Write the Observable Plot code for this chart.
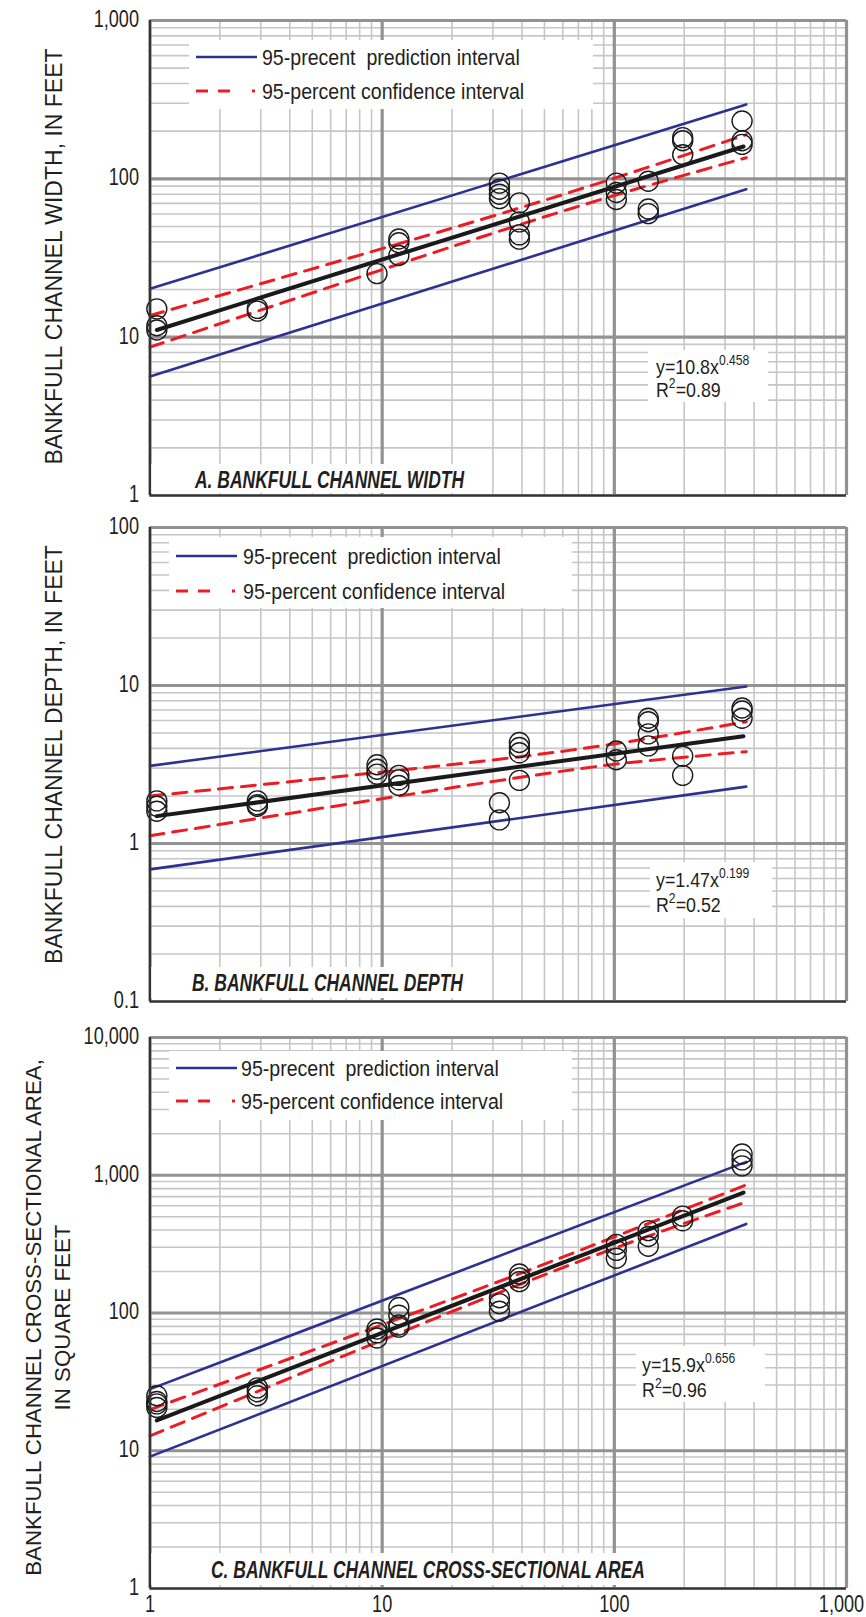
<!DOCTYPE html>
<html><head><meta charset="utf-8">
<script src="https://cdn.jsdelivr.net/npm/d3@7"></script>
<script src="https://cdn.jsdelivr.net/npm/@observablehq/plot@0.6"></script>
<style>
body{margin:0;background:#fff;}
#chart svg{display:block;overflow:visible;background:transparent;}
</style></head><body><div id="chart"></div>
<script>
// "condNN" in a font stack is a marker only: such texts are condensed to NN % width after rendering
const COND = k => `'Liberation Sans',Arial,Helvetica,sans-serif,cond${k}`;
const F_TICK = COND(74), F_LEG = COND(87), F_LAB = COND(76);
const SANS = "'Liberation Sans',Arial,Helvetica,sans-serif";
const INK = "#231f20", BLUE = "#2e3192", RED = "#ed1c24", DOT = "#1a1a1a";
const MINOR = "#c6c6c6", MAJOR = "#929292", AXIS = "#333333";

// ---------- data (drainage area, square miles) ----------
const areaA = [1.07,1.07,1.07, 2.9,2.9, 9.5, 11.8,11.8,11.8, 32,32,32,32, 39,39,39,39, 102,102,102, 140,140,140, 197,197,197, 355,355,355];
const widthA = [15.1,11.8,11.1, 15.2,14.6, 25.2, 41.7,39.5,32.8, 94,86,80,75, 70.5,53.5,44.3,41.6, 94,82,74, 96.5,64.5,60.3, 182,174,142, 232,174,165];

const areaB = [1.07,1.07,1.07, 2.9,2.9,2.9, 9.5,9.5,9.5, 11.8,11.8,11.8, 32,32, 39,39,39,39, 102,102, 140,140,140,140, 197,197, 355,355,355];
const depthB = [1.86,1.72,1.6, 1.86,1.76,1.72, 3.15,2.95,2.75, 2.7,2.53,2.33, 1.81,1.41, 4.36,4.05,3.75,2.51, 3.85,3.39, 6.2,5.9,4.94,4.15, 3.57,2.7, 7.2,6.9,6.2];

const areaC = [1.07,1.07,1.07,1.07, 2.9,2.9,2.9, 9.5,9.5,9.5, 11.8,11.8,11.8,11.8, 32,32,32, 39,39,39, 102,102,102, 140,140,140, 197,197, 355,355,355];
const xsecC = [25.1,22.8,21.9,20.6, 28.6,26.8,25.1, 76.6,71.8,65.9, 109.7,96.4,81.8,79, 129,117,103, 192,180,169, 315,285,250, 396,359,305, 505,467, 1426,1292,1170];

// regression lines and intervals
const predX = [1, 370];
const confX = [1, 30, 100, 370];
const fitX = [1.07, 360];

const predUpA = [20.2, 295], predLoA = [5.65, 86];
const confUpA = [13.7, 58.2, 101, 190], confLoA = [8.65, 45.3, 78.5, 136];
const fitA = [11.1, 160];

const predUpB = [3.1, 9.85], predLoB = [0.686, 2.29];
const confUpB = [2.0, 3.38, 4.27, 5.9], confLoB = [1.12, 2.47, 3.17, 3.81];
const fitB = [1.49, 4.78];

const predUpC = [28, 1250], predLoC = [9.06, 443];
const confUpC = [19.9, 163, 357, 852], confLoC = [12.8, 135, 295, 640];
const fitC = [16.6, 749];

// axis ticks and labels
const xTicks = [1, 10, 100, 1000];
const yTicksA = [1, 10, 100, 1000];
const yTicksB = [0.1, 1, 10, 100];
const yTicksC = [1, 10, 100, 1000, 10000];

const titles = ["BANKFULL CHANNEL WIDTH, IN FEET", "BANKFULL CHANNEL DEPTH, IN FEET", "BANKFULL CHANNEL CROSS-SECTIONAL AREA,\nIN SQUARE FEET"];
const panelLabels = ["A. BANKFULL CHANNEL WIDTH", "B. BANKFULL CHANNEL DEPTH", "C. BANKFULL CHANNEL CROSS-SECTIONAL AREA"];
const eqBase = ["y=10.8x", "y=1.47x", "y=15.9x"];
const eqExp = ["0.458", "0.199", "0.656"];
const r2 = ["0.89", "0.52", "0.96"];
const legendText = ["95-precent\u00a0 prediction interval", "95-percent confidence interval"];

// ---------- helpers ----------
const fmt = d3.format(",");
const rows = (xs, ys) => xs.map((x, i) => ({x, y: ys[i]}));
function gridValues(lo, hi) {
  const major = [], minor = [];
  for (let d = lo; d <= hi * 1.0001; d *= 10) {
    major.push(+d.toPrecision(6));
    if (d < hi * 0.9999) for (let m = 2; m <= 9; ++m) minor.push(+(d * m).toPrecision(6));
  }
  return {major, minor};
}
const gx = gridValues(1, 1000);

function ntext(g, x, y, size, family) {
  return g.append("text").attr("x", x).attr("y", y).attr("dy", "0.35em")
    .attr("text-anchor", "start").attr("font-family", family).attr("font-size", size).attr("fill", INK);
}

function annotate(p) {
  return () => {
    const T = y => y - p.top;
    const g = d3.create("svg:g");
    // legend box
    g.append("rect").attr("x", p.leg.x0).attr("y", T(p.leg.y0)).attr("width", p.leg.x1 - p.leg.x0).attr("height", p.leg.y1 - p.leg.y0).attr("fill", "white");
    g.append("line").attr("x1", p.leg.lx0).attr("x2", p.leg.lx1).attr("y1", T(p.leg.yb)).attr("y2", T(p.leg.yb)).attr("stroke", BLUE).attr("stroke-width", 2.6);
    g.append("line").attr("x1", p.leg.lx0).attr("x2", p.leg.lx1 + 1).attr("y1", T(p.leg.yr)).attr("y2", T(p.leg.yr)).attr("stroke", RED).attr("stroke-width", 3).attr("stroke-dasharray", "12,10,12,22,3");
    [p.leg.yb, p.leg.yr].forEach((yy, i) => ntext(g, p.leg.tx, T(yy), 22.5, F_LEG).text(legendText[i]));
    // equation box
    g.append("rect").attr("x", p.eq.x0).attr("y", T(p.eq.y0)).attr("width", p.eq.x1 - p.eq.x0).attr("height", p.eq.y1 - p.eq.y0).attr("fill", "white");
    const t1 = ntext(g, p.eq.tx, T(p.eq.c1), 20.5, F_LEG);
    t1.append("tspan").text(eqBase[p.i]);
    t1.append("tspan").attr("dy", -9).attr("font-size", 14).text(eqExp[p.i]);
    const t2 = ntext(g, p.eq.tx, T(p.eq.c2), 20.5, F_LEG);
    t2.append("tspan").text("R");
    t2.append("tspan").attr("dy", -9).attr("font-size", 14).text("2");
    t2.append("tspan").attr("dy", 9).text("=" + r2[p.i]);
    // panel label box + label
    g.append("rect").attr("x", 151).attr("y", T(p.lab.y0)).attr("width", p.lab.x1 - 151).attr("height", p.lab.y1 - p.lab.y0).attr("fill", "white");
    ntext(g, p.lab.tx, T(p.lab.c), 23, F_LAB).attr("font-weight", "bold").attr("font-style", "italic").text(panelLabels[p.i]);
    return g.node();
  };
}

const ML = 149.5, MR = 20;

function panel(p) {
  const gy = gridValues(p.yDomain[0], p.yDomain[1]);
  const marks = [
    Plot.ruleX(gx.minor, {stroke: MINOR, strokeWidth: 1.6}),
    Plot.ruleY(gy.minor, {stroke: MINOR, strokeWidth: 1.6}),
    Plot.ruleX(gx.major, {stroke: MAJOR, strokeWidth: 3.2}),
    Plot.ruleY(gy.major, {stroke: MAJOR, strokeWidth: 3.2}),
    annotate(p),
    Plot.line(rows(predX, p.predUp), {x: "x", y: "y", stroke: BLUE, strokeWidth: 2.6}),
    Plot.line(rows(predX, p.predLo), {x: "x", y: "y", stroke: BLUE, strokeWidth: 2.6}),
    Plot.line(rows(confX, p.confUp), {x: "x", y: "y", stroke: RED, strokeWidth: 3, strokeDasharray: "14,9", curve: "catmull-rom"}),
    Plot.line(rows(confX, p.confLo), {x: "x", y: "y", stroke: RED, strokeWidth: 3, strokeDasharray: "14,9", curve: "catmull-rom"}),
    Plot.dot(rows(p.xs, p.ys), {x: "x", y: "y", r: 10, stroke: DOT, strokeWidth: 1.4, fill: "none"}),
    Plot.line(rows(fitX, p.fit), {x: "x", y: "y", stroke: "#1a1a1a", strokeWidth: 4}),
    Plot.ruleX([1], {stroke: AXIS, strokeWidth: 2.2}),
    Plot.ruleY([p.yDomain[0]], {stroke: AXIS, strokeWidth: 2.2}),
    Plot.text(p.yTicks, {y: d => d, frameAnchor: "left", textAnchor: "end", dx: -11, dy: -1.5, text: fmt,
      fontFamily: F_TICK, fontSize: 24.5, fill: INK}),
    Plot.text([titles[p.i]], {frameAnchor: "left", textAnchor: "middle", rotate: -90,
      dx: p.titleX - ML, dy: p.titleY - (p.frameTop + p.frameBottom) / 2,
      fontFamily: SANS, fontSize: p.titleSize, fill: INK, lineAnchor: "middle", lineHeight: 1.3})
  ];
  if (p.xLabels) {
    marks.push(Plot.text(xTicks.slice(0, -1), {x: d => d, frameAnchor: "bottom", textAnchor: "middle", lineAnchor: "top", dy: 6, text: fmt,
      fontFamily: F_TICK, fontSize: 24.5, fill: INK}));
    marks.push(Plot.text(xTicks.slice(-1), {x: d => d, frameAnchor: "bottom", textAnchor: "middle", lineAnchor: "top", dy: 6, dx: -5, text: fmt,
      fontFamily: F_TICK, fontSize: 24.5, fill: INK}));
  }
  return Plot.plot({
    width: 866,
    height: p.height,
    marginLeft: ML, marginRight: MR,
    marginTop: p.frameTop - p.top,
    marginBottom: p.top + p.height - p.frameBottom,
    x: {type: "log", domain: [1, 1000], axis: null},
    y: {type: "log", domain: p.yDomain, axis: null},
    style: {background: "transparent", overflow: "visible"},
    marks
  });
}

// condense texts flagged with a "condNN" marker in their font stack (emulates a condensed face)
function condense(svg) {
  svg.querySelectorAll("text").forEach(t => {
    const host = t.hasAttribute("font-family") ? t : t.closest("[font-family]");
    const ff = host ? host.getAttribute("font-family") : "";
    const m = /cond(\d+)/.exec(ff);
    if (!m) return;
    const k = +m[1] / 100;
    const x = +t.getAttribute("x") || 0, y = +t.getAttribute("y") || 0;
    const tr = t.getAttribute("transform") || "";
    t.setAttribute("transform", `${tr} translate(${x},${y}) scale(${k},1) translate(${-x},${-y})`);
  });
}

const panels = [
  {i: 0, top: 0, height: 511, frameTop: 20, frameBottom: 495, yDomain: [1, 1000], yTicks: yTicksA,
   xs: areaA, ys: widthA, predUp: predUpA, predLo: predLoA, confUp: confUpA, confLo: confLoA, fit: fitA,
   titleX: 52, titleY: 256, titleSize: 23,
   leg: {x0: 189, x1: 593, y0: 40, y1: 109, lx0: 196, lx1: 257, yb: 57, yr: 91, tx: 262},
   eq: {x0: 648, x1: 768, y0: 350, y1: 402, tx: 656, c1: 367, c2: 390},
   lab: {y0: 464, y1: 493, x1: 490, tx: 195, c: 480}},
  {i: 1, top: 511, height: 509, frameTop: 527, frameBottom: 1001, yDomain: [0.1, 100], yTicks: yTicksB,
   xs: areaB, ys: depthB, predUp: predUpB, predLo: predLoB, confUp: confUpB, confLo: confLoB, fit: fitB,
   titleX: 52, titleY: 754, titleSize: 23,
   leg: {x0: 169, x1: 572, y0: 537, y1: 608, lx0: 176, lx1: 237, yb: 556, yr: 591, tx: 243},
   eq: {x0: 650, x1: 772, y0: 862, y1: 918, tx: 656, c1: 880, c2: 905},
   lab: {y0: 967, y1: 998, x1: 480, tx: 192, c: 983}},
  {i: 2, top: 1020, height: 597, frameTop: 1037, frameBottom: 1588, yDomain: [1, 10000], yTicks: yTicksC,
   xs: areaC, ys: xsecC, predUp: predUpC, predLo: predLoC, confUp: confUpC, confLo: confLoC, fit: fitC,
   titleX: 46, titleY: 1317, titleSize: 22.3, xLabels: true,
   leg: {x0: 169, x1: 572, y0: 1051, y1: 1120, lx0: 176, lx1: 237, yb: 1068, yr: 1101, tx: 241},
   eq: {x0: 636, x1: 765, y0: 1346, y1: 1402, tx: 642, c1: 1365, c2: 1390},
   lab: {y0: 1553, y1: 1585, x1: 650, tx: 211, c: 1570}}
];

const root = document.getElementById("chart");
for (const p of panels) {
  const svg = panel(p);
  root.appendChild(svg);
  condense(svg);
}
</script></body></html>
